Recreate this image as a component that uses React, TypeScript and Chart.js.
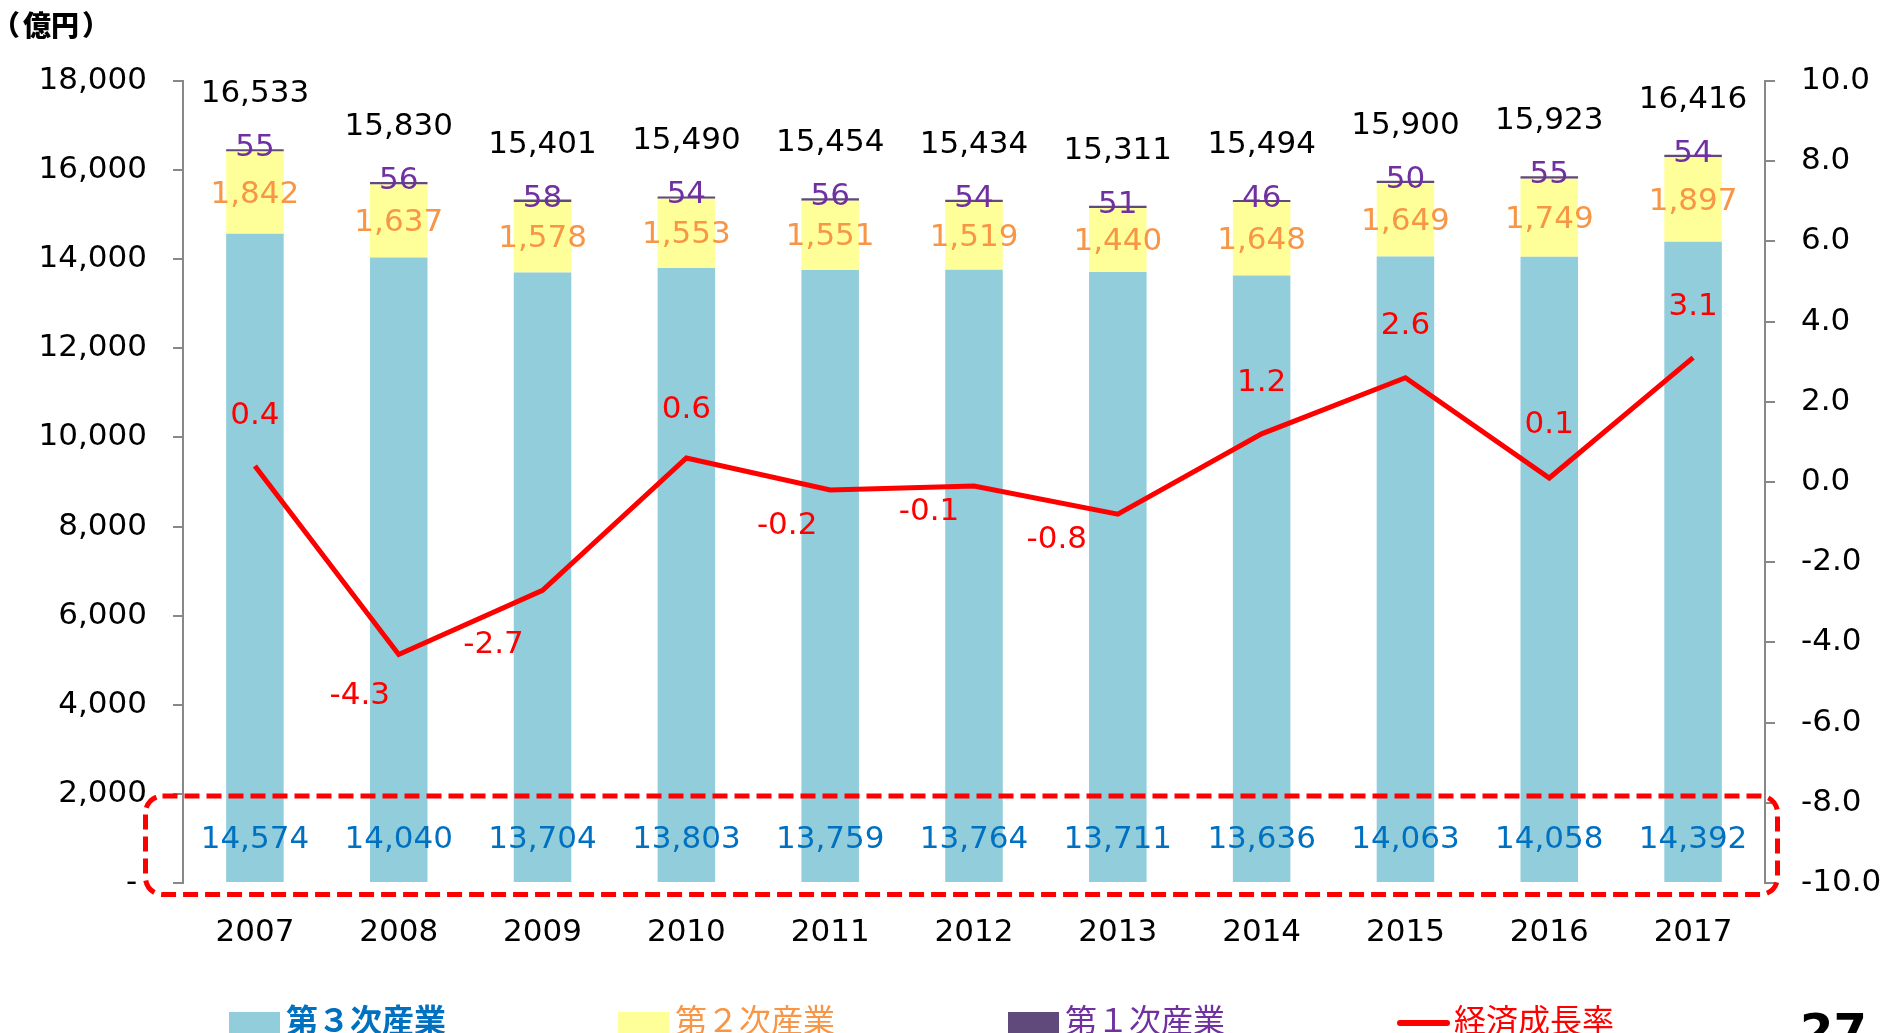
import React, { useEffect, useRef } from "react";
import { Chart, registerables } from "chart.js";

Chart.register(...registerables);

const years = ["2007", "2008", "2009", "2010", "2011", "2012", "2013", "2014", "2015", "2016", "2017"];
const tertiary = [14574, 14040, 13704, 13803, 13759, 13764, 13711, 13636, 14063, 14058, 14392];
const secondary = [1842, 1637, 1578, 1553, 1551, 1519, 1440, 1648, 1649, 1749, 1897];
const primary = [55, 56, 58, 54, 56, 54, 51, 46, 50, 55, 54];
const totals = [16533, 15830, 15401, 15490, 15454, 15434, 15311, 15494, 15900, 15923, 16416];
const growth = [0.4, -4.3, -2.7, 0.6, -0.2, -0.1, -0.8, 1.2, 2.6, 0.1, 3.1];

// label placement offsets (px) for growth-rate labels relative to the point
const growthLabelOffsets: [number, number][] = [
  [0, -50], [-39, 42], [-49, 55], [0, -48], [-43, 36], [-45, 26],
  [-61, 26], [0, -51], [0, -52], [0, -53], [0, -51],
];

const NUM_FONT = '"DejaVu Sans", Verdana, sans-serif';
const JP_FONT = '"Noto Sans CJK JP", sans-serif';
const FS = 31;

const fmt = (v: number) => v.toLocaleString("en-US");

const labelsPlugin = {
  id: "customLabels",
  afterDatasetsDraw(chart: any) {
    const ctx = chart.ctx;
    const x = chart.scales.x;
    const y = chart.scales.y;
    const y1 = chart.scales.y1;
    ctx.save();
    ctx.textAlign = "center";
    ctx.textBaseline = "middle";
    ctx.font = `${FS}px ${NUM_FONT}`;
    years.forEach((_, i) => {
      const cx = x.getPixelForValue(i);
      const top = y.getPixelForValue(tertiary[i] + secondary[i] + primary[i]);
      const secTop = y.getPixelForValue(tertiary[i] + secondary[i]);
      const terTop = y.getPixelForValue(tertiary[i]);
      ctx.fillStyle = "#000000";
      ctx.fillText(fmt(totals[i]), cx, top - 55);
      ctx.fillStyle = "#F79646";
      ctx.fillText(fmt(secondary[i]), cx, (secTop + terTop) / 2 + 2);
      ctx.fillStyle = "#7030A0";
      ctx.fillText(fmt(primary[i]), cx, top - 1);
      ctx.fillStyle = "#0070C0";
      ctx.fillText(fmt(tertiary[i]), cx, chart.chartArea.bottom - 43);
      const px = cx + growthLabelOffsets[i][0];
      const py = y1.getPixelForValue(growth[i]) + growthLabelOffsets[i][1];
      ctx.fillStyle = "#FF0000";
      ctx.fillText(growth[i].toFixed(1), px, py);
    });
    ctx.restore();
  },
  afterDraw(chart: any) {
    const ctx = chart.ctx;
    const area = chart.chartArea;
    ctx.save();
    const l = area.left - 37.5;
    const r = area.right + 12.5;
    const t = area.bottom - 87;
    const b = area.bottom + 11.5;
    const rad = 17;
    ctx.strokeStyle = "#FF0000";
    ctx.lineWidth = 5;
    ctx.setLineDash([15, 7]);
    ctx.beginPath();
    ctx.moveTo(l + rad, t);
    ctx.lineTo(r - rad, t);
    ctx.arcTo(r, t, r, t + rad, rad);
    ctx.lineTo(r, b - rad);
    ctx.arcTo(r, b, r - rad, b, rad);
    ctx.lineTo(l + rad, b);
    ctx.arcTo(l, b, l, b - rad, rad);
    ctx.lineTo(l, t + rad);
    ctx.arcTo(l, t, l + rad, t, rad);
    ctx.closePath();
    ctx.stroke();
    ctx.setLineDash([]);

    // unit label
    ctx.fillStyle = "#000000";
    ctx.textBaseline = "middle";
    ctx.textAlign = "left";
    ctx.font = `900 28px ${JP_FONT}`;
    ctx.fillText("（", -8, 25);
    ctx.fillText("億円", 23, 25);
    ctx.fillText("）", 82, 25);

    // legend
    const ly = 1020;
    const items = [
      { x: 229, color: "#92CDDC", text: "第３次産業", tcolor: "#0070C0", bold: true, kind: "box" },
      { x: 618, color: "#FFFF99", text: "第２次産業", tcolor: "#F79646", bold: false, kind: "box" },
      { x: 1008, color: "#604A7B", text: "第１次産業", tcolor: "#7030A0", bold: false, kind: "box" },
      { x: 1397, color: "#FF0000", text: "経済成長率", tcolor: "#FF0000", bold: false, kind: "line" },
    ];
    items.forEach((it) => {
      if (it.kind === "box") {
        ctx.fillStyle = it.color;
        ctx.fillRect(it.x, 1012, 51, 21);
      } else {
        ctx.strokeStyle = it.color;
        ctx.lineWidth = 6;
        ctx.lineCap = "round";
        ctx.beginPath();
        ctx.moveTo(it.x + 3, 1023);
        ctx.lineTo(it.x + 50, 1023);
        ctx.stroke();
      }
      ctx.fillStyle = it.tcolor;
      ctx.textBaseline = "middle";
      ctx.font = `${it.bold ? "bold " : ""}32px ${JP_FONT}`;
      ctx.fillText(it.text, it.x + 57, ly);
    });

    // page number (cut off)
    ctx.fillStyle = "#000000";
    ctx.font = `bold 48px ${NUM_FONT}`;
    ctx.textBaseline = "top";
    ctx.fillText("27", 1800, 1012);
    ctx.restore();
  },
};

export default function App() {
  const ref = useRef<HTMLCanvasElement>(null);
  useEffect(() => {
    if (!ref.current) return;
    const tickFont = { family: NUM_FONT, size: FS };
    const chart = new Chart(ref.current, {
      type: "bar",
      data: {
        labels: years,
        datasets: [
          {
            type: "line",
            label: "経済成長率",
            data: growth,
            yAxisID: "y1",
            borderColor: "#FF0000",
            borderWidth: 5,
            pointRadius: 0,
            tension: 0,
            fill: false,
            order: 0,
          } as any,
          { label: "第３次産業", data: tertiary, backgroundColor: "#92CDDC", yAxisID: "y", stack: "s", order: 1 },
          { label: "第２次産業", data: secondary, backgroundColor: "#FFFF99", yAxisID: "y", stack: "s", order: 1 },
          { label: "第１次産業", data: primary, backgroundColor: "#604A7B", yAxisID: "y", stack: "s", order: 1 },
        ],
      },
      options: {
        responsive: false,
        animation: false,
        devicePixelRatio: 1,
        layout: { padding: { top: 81, bottom: 80, left: 0, right: 0 } },
        datasets: { bar: { categoryPercentage: 1, barPercentage: 0.4 } },
        plugins: { legend: { display: false }, tooltip: { enabled: false } },
        scales: {
          x: {
            stacked: true,
            grid: { display: false },
            border: { display: false },
            ticks: { color: "#000", font: tickFont, padding: 23 },
            afterFit: (s: any) => { s.height = 70; },
          },
          y: {
            position: "left",
            stacked: true,
            min: 0,
            max: 18000,
            ticks: {
              stepSize: 2000,
              color: "#000",
              font: tickFont,
              padding: 26,
              callback: (v: any) => (v === 0 ? "- " : Number(v).toLocaleString("en-US")),
            },
            grid: { display: true, drawOnChartArea: false, drawTicks: true, tickLength: 10, color: "#888888", lineWidth: 2 },
            border: { display: true, color: "#888888", width: 2 },
            afterFit: (s: any) => { s.width = 183; },
          },
          y1: {
            position: "right",
            min: -10,
            max: 10,
            ticks: {
              stepSize: 2,
              color: "#000",
              font: tickFont,
              padding: 26,
              callback: (v: any) => Number(v).toFixed(1),
            },
            grid: { display: true, drawOnChartArea: false, drawTicks: true, tickLength: 10, color: "#888888", lineWidth: 2 },
            border: { display: true, color: "#888888", width: 2 },
            afterFit: (s: any) => { s.width = 124; },
          },
        },
      } as any,
      plugins: [labelsPlugin],
    });
    return () => chart.destroy();
  }, []);
  return (
    <div style={{ position: "fixed", left: 0, top: 0, width: 1889, height: 1033, background: "#fff" }}>
      <canvas ref={ref} width={1889} height={1033} style={{ display: "block" }} />
    </div>
  );
}
